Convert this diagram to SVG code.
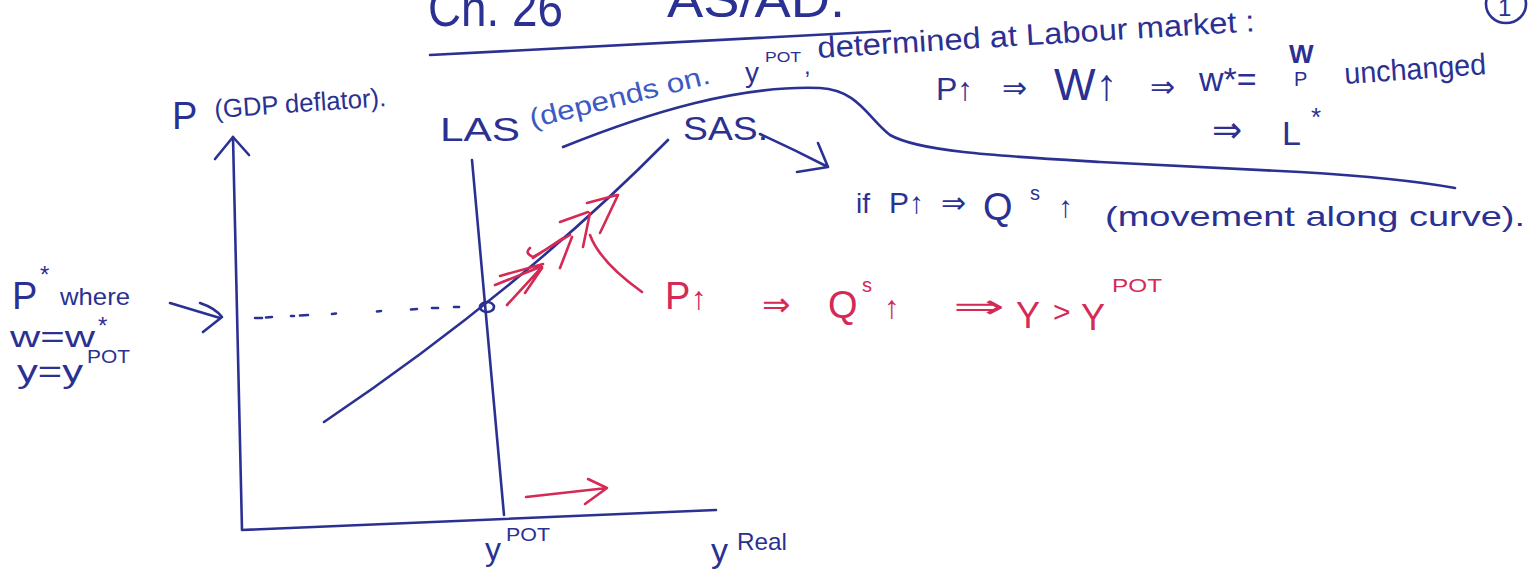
<svg xmlns="http://www.w3.org/2000/svg" width="1535" height="581" viewBox="0 0 1535 581">
<defs>
<style>
text{font-family:"Liberation Sans","DejaVu Sans",sans-serif}
.b{fill:#2b3192}
.lb{fill:#3d5ac4}
.r{fill:#d42a55}
.ln{stroke:#2b3192;stroke-width:2.6;fill:none;stroke-linecap:round;stroke-linejoin:round}
.rl{stroke:#d42a55;stroke-width:2.6;fill:none;stroke-linecap:round;stroke-linejoin:round}
</style>
</defs>
<rect width="1535" height="581" fill="#ffffff"/>

<g id="title">
<text class="b" x="428" y="26" font-size="52" textLength="135" lengthAdjust="spacingAndGlyphs">Ch. 26</text>
<text class="b" x="667" y="17" font-size="50" textLength="178" lengthAdjust="spacingAndGlyphs">AS/AD.</text>
<ellipse cx="1506" cy="4" rx="20" ry="19" class="ln"/>
<text class="b" x="1498" y="16" font-size="24">1</text>
</g>

<g id="axis-labels">
<text class="b" x="172" y="129" font-size="38">P</text>
<text class="b" x="215" y="118" font-size="26" textLength="172" lengthAdjust="spacingAndGlyphs" transform="rotate(-4 215 118)">(GDP deflator).</text>
<text class="b" x="485" y="560" font-size="32">y</text>
<text class="b" x="506" y="541" font-size="18" textLength="44" lengthAdjust="spacingAndGlyphs">POT</text>
<text class="b" x="711" y="562" font-size="34">y</text>
<text class="b" x="737" y="550" font-size="24" textLength="50" lengthAdjust="spacingAndGlyphs">Real</text>
</g>

<g id="las-label">
<text class="b" x="440" y="141" font-size="34" textLength="80" lengthAdjust="spacingAndGlyphs">LAS</text>
<text class="lb" x="532" y="128" font-size="27" textLength="185" lengthAdjust="spacingAndGlyphs" transform="rotate(-14 532 128)">(depends on.</text>
<text class="b" x="745" y="82" font-size="28">y</text>
<text class="b" x="765" y="62" font-size="14" textLength="36" lengthAdjust="spacingAndGlyphs">POT</text>
<text class="b" x="804" y="74" font-size="24">,</text>
<text class="b" x="818" y="58" font-size="30" textLength="438" lengthAdjust="spacingAndGlyphs" transform="rotate(-3.5 818 58)">determined at Labour market :</text>
</g>

<g id="labour-market">
<text class="b" x="936" y="100" font-size="32">P↑</text>
<text class="b" x="1002" y="98" font-size="30">⇒</text>
<text class="b" x="1054" y="100" font-size="44">W↑</text>
<text class="b" x="1150" y="97" font-size="30">⇒</text>
<text class="b" x="1199" y="91" font-size="34">w*=</text>
<text class="b" x="1289" y="63" font-size="26" font-weight="bold">W</text>
<text class="b" x="1294" y="86" font-size="20">P</text>
<text class="b" x="1345" y="84" font-size="30" textLength="142" lengthAdjust="spacingAndGlyphs" transform="rotate(-4 1345 84)">unchanged</text>
<text class="b" x="1212" y="142" font-size="36">⇒</text>
<text class="b" x="1282" y="145" font-size="34">L</text>
<text class="b" x="1311" y="126" font-size="26">*</text>
</g>

<g id="sas-label">
<text class="b" x="683" y="140" font-size="34" textLength="85" lengthAdjust="spacingAndGlyphs">SAS.</text>
<text class="b" x="856" y="213" font-size="28">if</text>
<text class="b" x="889" y="213" font-size="30">P↑</text>
<text class="b" x="941" y="213" font-size="30">⇒</text>
<text class="b" x="983" y="220" font-size="38">Q</text>
<text class="b" x="1030" y="200" font-size="20">s</text>
<text class="b" x="1058" y="217" font-size="30">↑</text>
<text class="b" x="1105" y="226" font-size="28" textLength="420" lengthAdjust="spacingAndGlyphs">(movement along curve).</text>
</g>

<g id="equilibrium-label">
<text class="b" x="12" y="309" font-size="38">P</text>
<text class="b" x="40" y="283" font-size="24">*</text>
<text class="b" x="60" y="305" font-size="24" textLength="70" lengthAdjust="spacingAndGlyphs">where</text>
<text class="b" x="10" y="347" font-size="30" textLength="85" lengthAdjust="spacingAndGlyphs">w=w</text>
<text class="b" x="98" y="334" font-size="24">*</text>
<text class="b" x="17" y="382" font-size="32" textLength="66" lengthAdjust="spacingAndGlyphs">y=y</text>
<text class="b" x="87" y="363" font-size="18" textLength="43" lengthAdjust="spacingAndGlyphs">POT</text>
</g>

<g id="red-note">
<text class="r" x="665" y="309" font-size="38">P</text>
<text class="r" x="691" y="309" font-size="32">↑</text>
<text class="r" x="762" y="316" font-size="34">⇒</text>
<text class="r" x="828" y="318" font-size="38">Q</text>
<text class="r" x="862" y="292" font-size="20">s</text>
<text class="r" x="884" y="318" font-size="32">↑</text>
<text class="r" x="953" y="318" font-size="34" textLength="52" lengthAdjust="spacingAndGlyphs">⇒</text>
<text class="r" x="1016" y="328" font-size="36">Y</text>
<text class="r" x="1053" y="322" font-size="30">&gt;</text>
<text class="r" x="1081" y="330" font-size="36">Y</text>
<text class="r" x="1112" y="292" font-size="18" textLength="50" lengthAdjust="spacingAndGlyphs">POT</text>
</g>

<g id="connectors">
<path class="ln" d="M430,55 Q660,42 890,31"/>
<path class="ln" d="M233,137 L242,530 L716,510"/>
<path class="ln" d="M215,159 L233,137 L249,155"/>
<path class="ln" d="M472,160 L504,515"/>
<path class="ln" d="M324,422 Q520,290 668,140"/>
<ellipse cx="487" cy="307" rx="7" ry="5" class="ln" stroke-width="3"/>
<path class="ln" d="M255,318 L262,318 M266,317.5 L272,317 M291,316 L294,316 M300,315.5 L308,315 M332,314 L336,313.5 M377,311.5 L381,311 M411,309.5 L417,309 M432,308 L438,308 M454,307 L459,307"/>
<path class="ln" d="M170,303 L220,318 M200,303 Q215,308 222,317 L203,332"/>
<path class="ln" d="M563,147 C650,112 740,85 820,88 C858,90 868,118 890,135 C920,152 1000,156 1100,162 L1300,172 Q1400,178 1455,188"/>
<path class="ln" d="M760,134 Q795,150 828,167 M818,143 L828,167 L797,172"/>
<path class="rl" d="M500,276 L543,264 M495,285 L540,267 M507,305 L542,267 M525,293 L542,268"/>
<path class="rl" d="M530,248 Q524,253 533,257 L570,235 M533,258 L563,238 M560,268 L572,237"/>
<path class="rl" d="M560,222 L588,212 M583,247 L590,213"/>
<path class="rl" d="M587,203 L617,195 M600,233 L618,195"/>
<path class="rl" d="M590,235 Q600,262 642,292"/>
<path class="rl" d="M526,497 L607,488 M588,479 L607,488 L585,504"/>
</g>
</svg>
